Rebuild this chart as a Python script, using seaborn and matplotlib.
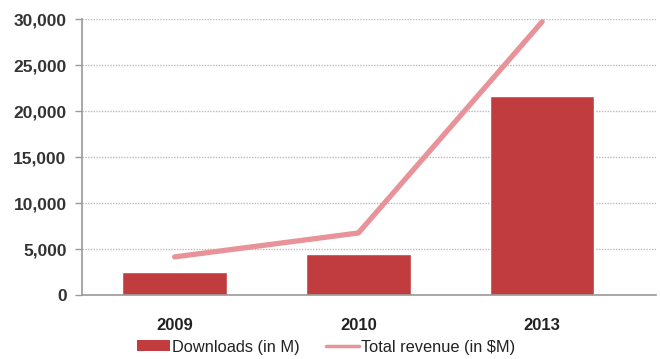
import matplotlib
matplotlib.use("Agg")
import matplotlib.pyplot as plt
import seaborn as sns
import numpy as np
import pandas as pd
from matplotlib.patches import Patch
from matplotlib.lines import Line2D
from matplotlib.ticker import FuncFormatter

years = ["2009", "2010", "2013"]
downloads = [2500, 4450, 21600]
revenue = [4150, 6750, 29700]
yticks = [0, 5000, 10000, 15000, 20000, 25000, 30000]

bar_color = "#C03C3E"
line_color = "#E8929A"

sns.set_style("white")
plt.rcParams["font.family"] = ["Liberation Sans", "DejaVu Sans"]

fig = plt.figure(figsize=(6.6, 3.59), dpi=100)
ax = fig.add_axes([0.124, 0.178, 0.87, 0.769])

df = pd.DataFrame({"year": years, "downloads": downloads, "revenue": revenue})
sns.barplot(data=df, x="year", y="downloads", color=bar_color, width=0.57,
            saturation=1, ax=ax, zorder=2)
sns.lineplot(x=np.arange(len(years)), y=revenue, color=line_color, linewidth=3.8,
             ax=ax, zorder=3)

ax.set_ylim(0, 30000)
ax.set_xlim(-0.505, 2.62)
ax.set_yticks(yticks)
ax.yaxis.set_major_formatter(FuncFormatter(lambda v, p: f"{int(v):,}"))
ax.grid(axis="y", color="#BBBBBB", linestyle=(0, (1, 1)), linewidth=1.0, zorder=0)
ax.set_axisbelow(True)
ax.set_xlabel("")
ax.set_ylabel("")

for s in ["top", "right"]:
    ax.spines[s].set_visible(False)
for s in ["left", "bottom"]:
    ax.spines[s].set_color("#9A9A9A")
    ax.spines[s].set_linewidth(1.2)

ax.tick_params(axis="y", left=True, length=5, width=1, color="#9A9A9A",
               labelsize=12.5, labelcolor="#333333", pad=6)
ax.tick_params(axis="x", bottom=False, labelsize=12, labelcolor="#222222", pad=13)
for t in ax.get_yticklabels() + ax.get_xticklabels():
    t.set_fontweight("bold")

handles = [Patch(facecolor=bar_color, edgecolor="none"),
           Line2D([0], [0], color=line_color, linewidth=2.5)]
fig.legend(handles, ["Downloads (in M)", "Total revenue (in $M)"],
           loc="center", bbox_to_anchor=(0.494, 0.033), ncol=2, frameon=False,
           fontsize=11.8, handlelength=2.0, handleheight=0.65, columnspacing=1.6,
           handletextpad=0.15, labelcolor="#222222")

fig.savefig("out.png", dpi=100)
